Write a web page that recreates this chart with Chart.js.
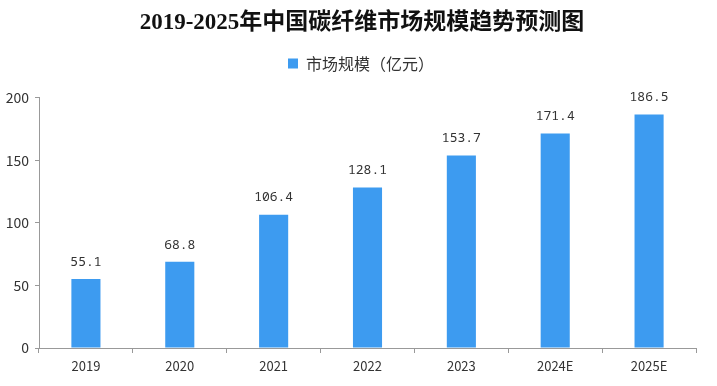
<!DOCTYPE html>
<html>
<head>
<meta charset="utf-8">
<script src="https://cdn.jsdelivr.net/npm/chart.js@4/dist/chart.umd.min.js"></script>
<style>
  html, body { margin: 0; padding: 0; background: #fff; }
  #wrap { width: 717px; height: 386px; }
</style>
</head>
<body>
<div id="wrap"><canvas id="myBarChart"></canvas></div>
<script>
/*  data
-------------------------------------------------------*/
var years = ['2019', '2020', '2021', '2022', '2023', '2024E', '2025E'];
var marketSize = [55.1, 68.8, 106.4, 128.1, 153.7, 171.4, 186.5];
var yTicks = [0, 50, 100, 150, 200];

/*  value labels above bars
-------------------------------------------------------*/
var valueLabels = {
  id: 'valueLabels',
  beforeInit: function(chart) {
    // leave more room under the legend
    var fit = chart.legend.fit;
    chart.legend.fit = function() {
      fit.call(this);
      this.height += 16;
    };
  },
  afterLayout: function(chart) {
    // centre the header on the whole page, not the padded box
    chart.titleBlock.left = 0;
    chart.titleBlock.right = 724;
    chart.legend.left = 0;
    chart.legend.right = 722;
  },
  afterDatasetsDraw: function(chart) {
    var ctx = chart.ctx;
    var meta = chart.getDatasetMeta(0);
    ctx.save();
    ctx.font = '13px "Noto Sans Mono", "DejaVu Sans Mono", monospace';
    ctx.fillStyle = '#333';
    ctx.textAlign = 'center';
    ctx.textBaseline = 'middle';
    meta.data.forEach(function(bar, i) {
      ctx.fillText(marketSize[i].toFixed(1), bar.x, bar.y - 17);
    });
    ctx.restore();
  }
};

var ctx = document.getElementById("myBarChart");
var myBarChart = new Chart(ctx, {
  type: 'bar',
  data: {
    labels: years,
    datasets: [{
      label: '市场规模（亿元）',
      data: marketSize,
      backgroundColor: '#3d9bf0',
      borderWidth: 0,
      categoryPercentage: 1,
      barPercentage: 0.31
    }]
  },
  plugins: [valueLabels],
  options: {
    responsive: true,
    maintainAspectRatio: false,
    animation: false,
    layout: { padding: { left: 0, right: 21, top: 0, bottom: 0 } },
    plugins: {
      title: {
        display: true,
        text: '2019-2025年中国碳纤维市场规模趋势预测图',
        color: '#111',
        font: { family: '"Liberation Serif", "Noto Sans CJK SC", serif', size: 23, weight: 'bold' },
        padding: { top: 9, bottom: 9 }
      },
      legend: {
        display: true,
        labels: {
          color: '#333',
          boxWidth: 10,
          boxHeight: 10,
          padding: 10,
          font: { family: '"Noto Sans CJK SC", sans-serif', size: 16 }
        }
      },
      tooltip: { enabled: false }
    },
    scales: {
      x: {
        grid: { offset: true, drawOnChartArea: false, drawTicks: true, tickLength: 5, color: '#999' },
        border: { display: true, color: '#999' },
        ticks: { color: '#333', padding: 5, font: { family: '"Noto Sans CJK SC", sans-serif', size: 13 } },
        afterFit: function(scale) { scale.height = 38; }
      },
      y: {
        min: 0,
        max: 200,
        afterBuildTicks: function(scale) {
          scale.ticks = yTicks.map(function(v) { return { value: v }; });
        },
        grid: { drawOnChartArea: false, drawTicks: true, tickLength: 4, color: '#999' },
        border: { display: true, color: '#999' },
        ticks: { color: '#333', padding: 6, font: { family: '"Noto Sans CJK SC", sans-serif', size: 14 } },
        afterFit: function(scale) { scale.width = 39; }
      }
    }
  }
});
</script>
</body>
</html>
